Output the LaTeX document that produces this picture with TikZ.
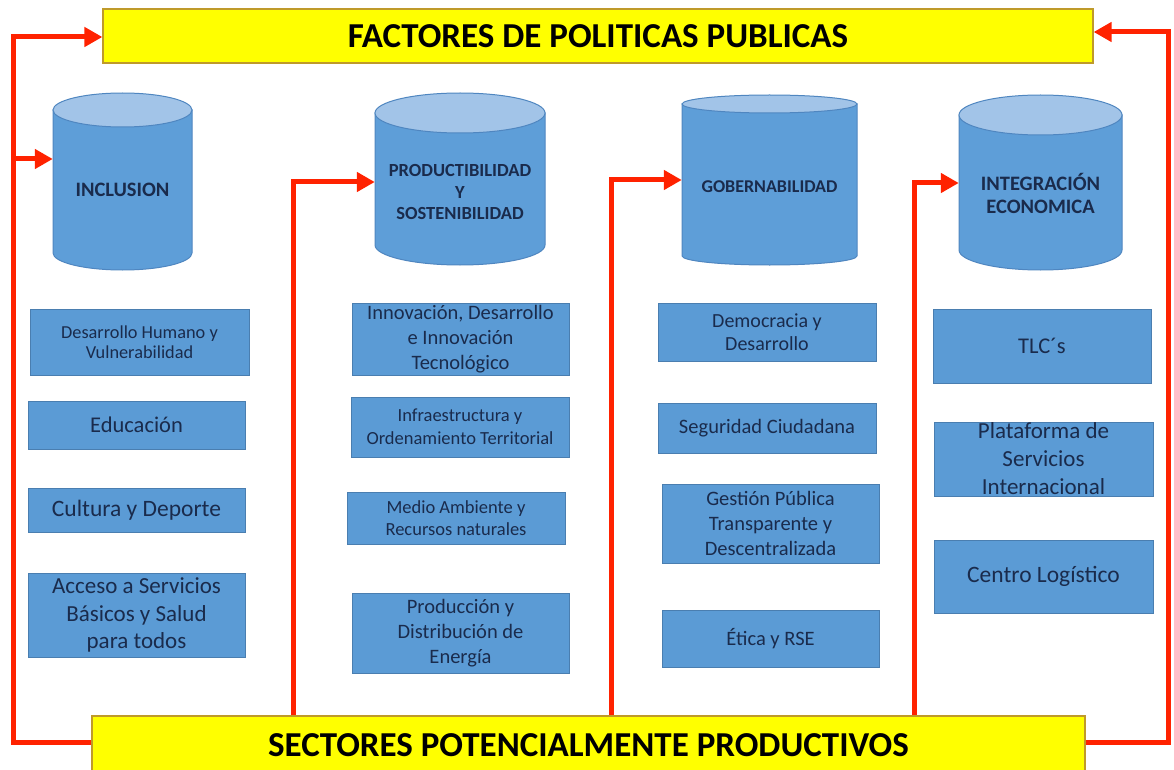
\documentclass[tikz,border=0pt]{standalone}
\usepackage{fontspec}
\setmainfont{Carlito}
\usetikzlibrary{arrows.meta}
\definecolor{boxblue}{HTML}{5B9BD5}
\definecolor{boxborder}{HTML}{4A7EB0}
\definecolor{cylbody}{HTML}{5E9ED8}
\definecolor{cyltop}{HTML}{A2C4E8}
\definecolor{cylborder}{HTML}{4F86C0}
\definecolor{txt}{HTML}{1A2B4C}
\definecolor{bannery}{HTML}{FFFF00}
\definecolor{bannerborder}{HTML}{BF9A2A}
\definecolor{arrred}{HTML}{FF2200}
\newcommand\cylshape[5]{%
  \pgfmathsetmacro\cylcx{(#1+#2)/2}%
  \pgfmathsetmacro\cylrx{(#2-#1)/2}%
  \path[fill=cylbody,draw=cylborder,line width=1pt]
    (#1,#3+#5) -- (#1,#4-#5)
    arc[start angle=180,end angle=0,x radius=\cylrx,y radius=#5]
    -- (#2,#3+#5) -- cycle;
  \path[fill=cyltop,draw=cylborder,line width=1pt]
    (\cylcx,#3+#5) ellipse[x radius=\cylrx,y radius=#5];
}
\begin{document}
\begin{tikzpicture}[x=1pt,y=-1pt,
  banner/.style={draw=bannerborder,line width=1.2pt,fill=bannery,text=black,
    font=\fontsize{35}{40}\selectfont\bfseries,inner sep=0pt},
  itembox/.style={draw=boxborder,line width=1pt,fill=boxblue,text=txt,
    align=center,inner sep=0pt},
  cylnode/.style={inner sep=0pt,draw=none},
  cyllabel/.style={text=txt,align=center,inner sep=0pt},
  flow/.style={draw=arrred,line width=5pt,line join=miter,
    -{Triangle[length=18pt,width=19pt]}}
]
\useasboundingbox (0,0) rectangle (1174,770);
\fill[white] (0,0) rectangle (1174,770);

% banners
\node[banner,minimum width=990pt,minimum height=54pt] (fp) at (598,36)
  {FACTORES DE POLITICAS PUBLICAS};
\node[banner,minimum width=993pt,minimum height=58pt] (sb) at (588.5,745)
  {SECTORES POTENCIALMENTE PRODUCTIVOS};

% cylinders
\cylshape{53}{192}{93}{270}{17}
\node[cylnode,minimum width=139pt,minimum height=177pt] (c1) at (122.5,181.5) {};
\node[cyllabel,font=\fontsize{20.5}{24}\selectfont\bfseries] (t1) at (122.5,190) {INCLUSION};

\cylshape{375}{545}{93}{265}{20}
\node[cylnode,minimum width=170pt,minimum height=172pt] (c2) at (460,179) {};
\node[cyllabel,font=\fontsize{18.5}{21.5}\selectfont\bfseries] (t2) at (460,192)
  {PRODUCTIBILIDAD\\Y\\SOSTENIBILIDAD};

\cylshape{682}{857}{95}{265}{9}
\node[cylnode,minimum width=175pt,minimum height=170pt] (c3) at (769.5,180) {};
\node[cyllabel,font=\fontsize{18}{22}\selectfont\bfseries] (t3) at (769.5,187) {GOBERNABILIDAD};

\cylshape{959}{1122}{95}{270}{20}
\node[cylnode,minimum width=163pt,minimum height=175pt] (c4) at (1040.5,182.5) {};
\node[cyllabel,font=\fontsize{20.5}{23.5}\selectfont\bfseries] (t4) at (1040.5,193.5)
  {INTEGRACIÓN\\ECONOMICA};

% column 1
\node[itembox,minimum width=219pt,minimum height=66pt,font=\fontsize{18.3}{20.5}\selectfont] (b11) at (139.5,342)
  {Desarrollo Humano y\\Vulnerabilidad};
\node[itembox,minimum width=217pt,minimum height=48pt,font=\fontsize{22.5}{27}\selectfont] (b12) at (136.5,425)
  {Educación};
\node[itembox,minimum width=217pt,minimum height=44pt,font=\fontsize{23.5}{27.5}\selectfont] (b13) at (136.5,510)
  {Cultura y Deporte};
\node[itembox,minimum width=217pt,minimum height=84pt,font=\fontsize{23}{27.5}\selectfont] (b14) at (136.5,615)
  {Acceso a Servicios\\Básicos y Salud\\para todos};

% column 2
\node[itembox,minimum width=217pt,minimum height=72pt,font=\fontsize{20.5}{25}\selectfont] (b21) at (460.5,339)
  {Innovación, Desarrollo\\e Innovación\\Tecnológico};
\node[itembox,minimum width=218pt,minimum height=60pt,font=\fontsize{18.5}{23}\selectfont] (b22) at (460,427)
  {Infraestructura y\\Ordenamiento Territorial};
\node[itembox,minimum width=218pt,minimum height=52pt,font=\fontsize{18.5}{22}\selectfont] (b23) at (456,518)
  {Medio Ambiente y\\Recursos naturales};
\node[itembox,minimum width=217pt,minimum height=80pt,font=\fontsize{20.5}{25}\selectfont] (b24) at (460.5,633)
  {Producción y\\Distribución de\\Energía};

% column 3
\node[itembox,minimum width=218pt,minimum height=58pt,font=\fontsize{20}{23.5}\selectfont] (b31) at (767,332)
  {Democracia y\\Desarrollo};
\node[itembox,minimum width=218pt,minimum height=50pt,font=\fontsize{20.5}{25}\selectfont] (b32) at (767,428)
  {Seguridad Ciudadana};
\node[itembox,minimum width=217pt,minimum height=79pt,font=\fontsize{20.5}{25}\selectfont] (b33) at (770.5,523.5)
  {Gestión Pública\\Transparente y\\Descentralizada};
\node[itembox,minimum width=217pt,minimum height=57pt,font=\fontsize{20.5}{25}\selectfont] (b34) at (770.5,638.5)
  {Ética y RSE};

% column 4
\node[itembox,minimum width=218pt,minimum height=74pt,font=\fontsize{22.5}{27.5}\selectfont] (b41) at (1042,346)
  {TLC´s};
\node[itembox,minimum width=219pt,minimum height=74pt,font=\fontsize{23}{28}\selectfont] (b42) at (1043.5,459)
  {Plataforma de\\Servicios\\Internacional};
\node[itembox,minimum width=219pt,minimum height=73pt,font=\fontsize{23.5}{27.5}\selectfont] (b43) at (1043.5,576.5)
  {Centro Logístico};

% red connectors
\coordinate (L1) at (13,742);
\coordinate (L2) at (13,37);
\coordinate (B1) at (13,159);
\draw[flow] (L1 -| sb.west) -- (L1) -- (L2) -- (L2 -| fp.west);
\draw[flow] (B1) -- (B1 -| c1.west);

\coordinate (P2) at (293,182);
\draw[flow] (P2 |- sb.north) -- (P2) -- (P2 -| c2.west);
\coordinate (P3) at (611,180);
\draw[flow] (P3 |- sb.north) -- (P3) -- (P3 -| c3.west);
\coordinate (P4) at (914,183);
\draw[flow] (P4 |- sb.north) -- (P4) -- (P4 -| c4.west);

\coordinate (R1) at (1168,742);
\coordinate (R2) at (1168,32);
\draw[flow] (R1 -| sb.east) -- (R1) -- (R2) -- (R2 -| fp.east);
\end{tikzpicture}
\end{document}
